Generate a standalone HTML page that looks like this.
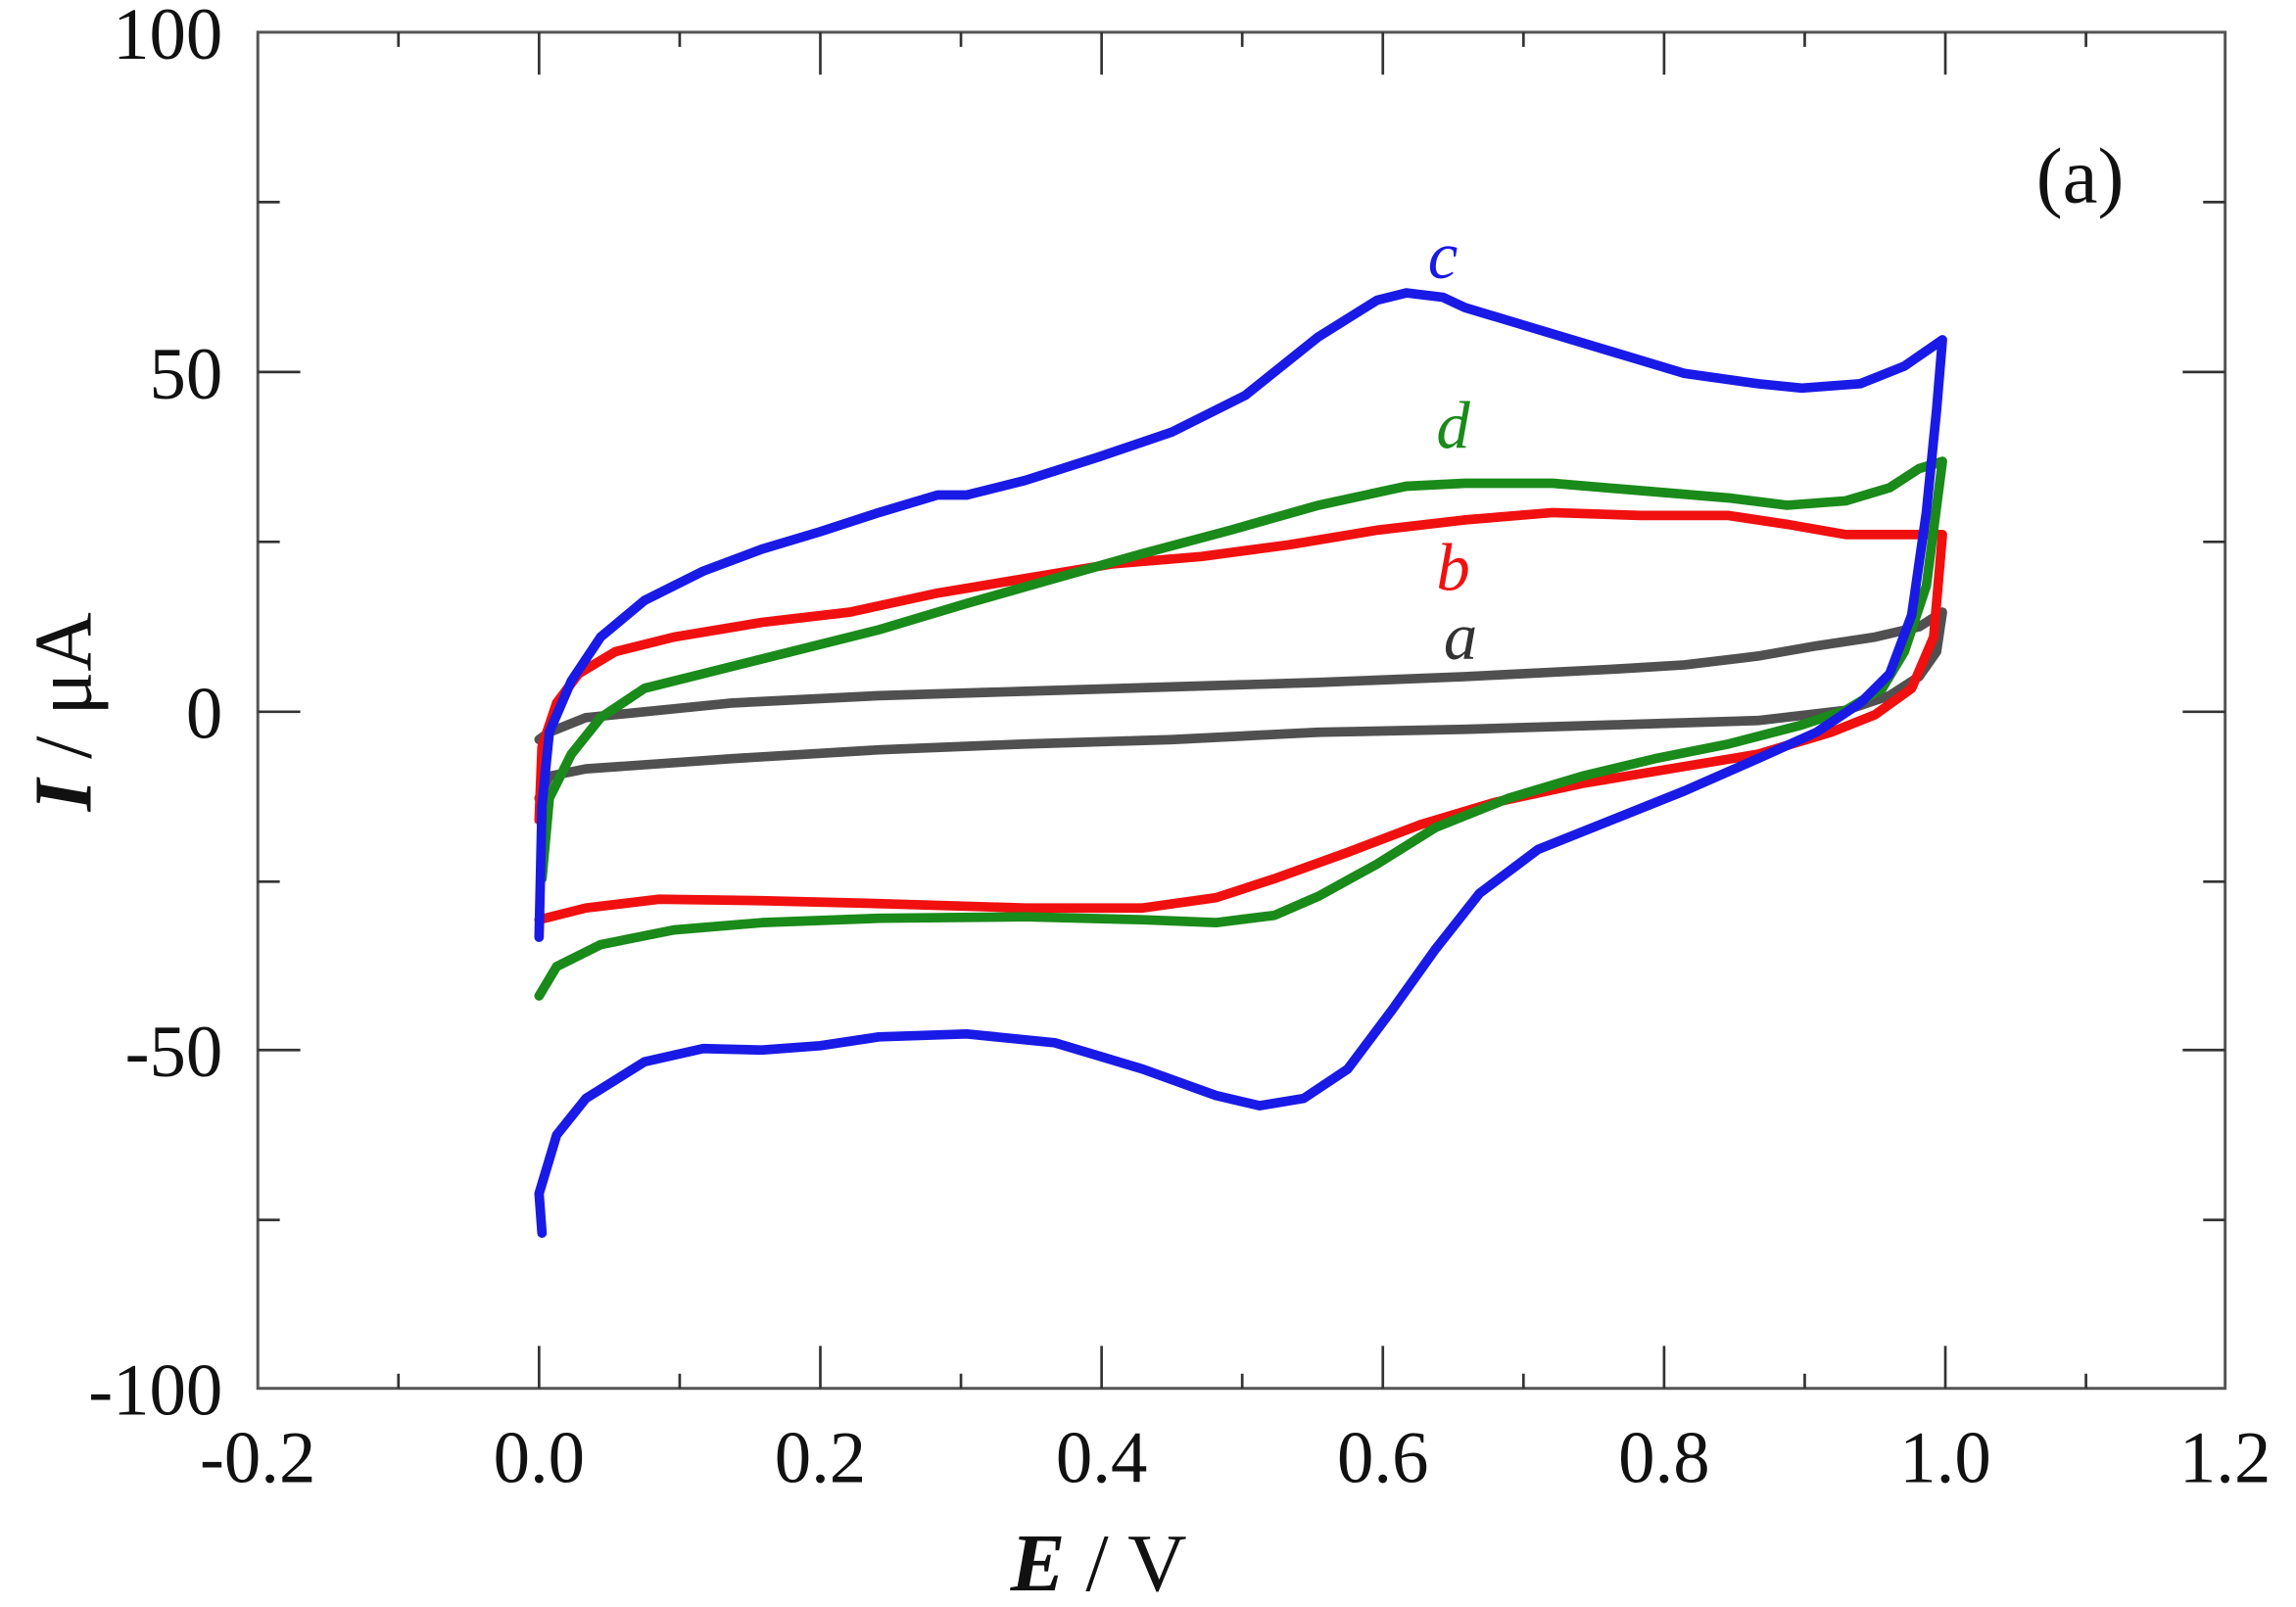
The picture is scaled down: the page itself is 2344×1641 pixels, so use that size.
<!DOCTYPE html>
<html><head><meta charset="utf-8"><style>html,body{margin:0;padding:0;background:#fff}svg{display:block}</style></head>
<body>
<svg width="2344" height="1641" viewBox="0 0 2344 1641" xmlns="http://www.w3.org/2000/svg">
<g transform="scale(1.4955)">
<rect x="176" y="22" width="1343" height="926" fill="none" stroke="#555" stroke-width="2"/>
<g stroke="#333" stroke-width="1.8">
<path d="M272,948v-10M368,948v-29M464,948v-10M560,948v-29M656,948v-10M752,948v-29M848,948v-10M944,948v-29M1040,948v-10M1136,948v-29M1232,948v-10M1328,948v-29M1424,948v-10"/>
<path d="M272,22v10M368,22v29M464,22v10M560,22v29M656,22v10M752,22v29M848,22v10M944,22v29M1040,22v10M1136,22v29M1232,22v10M1328,22v29M1424,22v10"/>
<path d="M176,138h15M176,254h29M176,370h15M176,486h29M176,602h15M176,717h29M176,833h15"/>
<path d="M1519,138h-15M1519,254h-29M1519,370h-15M1519,486h-29M1519,602h-15M1519,717h-29M1519,833h-15"/>
</g>
<g font-family="Liberation Serif, serif" font-size="50" fill="#111">
<g text-anchor="end">
<text x="152" y="40">100</text><text x="152" y="272">50</text><text x="152" y="504">0</text>
<text x="152" y="735">-50</text><text x="152" y="966">-100</text>
</g>
<g text-anchor="middle">
<text x="176" y="1012">-0.2</text><text x="368" y="1012">0.0</text><text x="560" y="1012">0.2</text>
<text x="752" y="1012">0.4</text><text x="944" y="1012">0.6</text><text x="1136" y="1012">0.8</text>
<text x="1328" y="1012">1.0</text><text x="1519" y="1012">1.2</text>
</g>
<text x="1420" y="138" text-anchor="middle" font-size="54">(a)</text>
<text x="750" y="1086" text-anchor="middle" font-size="56"><tspan font-weight="bold" font-style="italic">E</tspan> / V</text>
<text transform="translate(62,486) rotate(-90)" text-anchor="middle" font-size="56"><tspan font-weight="bold" font-style="italic">I</tspan> / μA</text>
<g font-style="italic" font-size="46" text-anchor="middle">
<text x="985" y="190" fill="#1a1ae6">c</text>
<text x="992" y="306" fill="#1a8a1a">d</text>
<text x="992" y="403" fill="#f01010">b</text>
<text x="997" y="450" fill="#333">a</text>
</g>
</g>
<g fill="none" stroke-width="6.5" stroke-linejoin="round" stroke-linecap="round">
<path stroke="#505050" d="M368,505 L375,500 400,490 500,480 600,475 700,472 800,469 900,466 1000,462 1100,457 1150,454 1200,448 1240,441 1280,435 1310,428 1326,418 L1322,445 1310,462 1290,475 1260,485 1200,492 1100,495 1000,498 900,500 800,505 700,508 600,512 500,518 400,525 375,530 368,545"/>
<path stroke="#f01010" d="M368,628 L400,620 450,614 520,615 600,617 700,620 780,620 830,613 870,600 920,582 970,563 1020,548 1080,535 1140,525 1200,515 1250,500 1280,488 1305,470 1320,435 1326,365 L1300,365 1260,365 1220,358 1180,352 1120,352 1060,350 1000,355 940,362 880,372 820,380 760,385 700,395 640,405 580,418 520,425 460,435 420,445 395,460 380,480 370,510 368,560"/>
<path stroke="#1a8a1a" d="M368,680 L380,660 410,645 460,635 520,630 600,627 700,626 780,628 830,630 870,625 900,612 940,590 980,565 1030,545 1080,530 1130,518 1180,508 1230,495 1260,485 1285,470 1300,445 1315,400 1326,315 L1310,320 1290,333 1260,342 1220,345 1180,340 1120,335 1060,330 1000,330 960,332 900,345 840,362 780,378 720,395 660,412 600,430 540,445 480,460 440,470 410,490 390,515 375,545 370,600"/>
<path stroke="#1a1ae6" d="M370,842 L368,815 380,775 400,750 440,725 480,716 520,717 560,714 600,708 660,706 720,712 780,730 830,748 860,755 890,750 920,730 950,690 980,648 1010,610 1050,580 1100,560 1150,540 1200,518 1240,500 1270,480 1290,460 1305,420 1315,350 1322,280 1326,232 L1300,250 1270,262 1230,265 1200,262 1150,255 1100,240 1050,225 1000,210 985,203 960,200 940,205 900,230 850,270 800,295 750,312 700,328 660,338 640,338 600,350 560,363 520,375 480,390 440,410 410,435 390,465 375,500 370,550 368,640"/>
</g>
</g>
</svg>
</body></html>
